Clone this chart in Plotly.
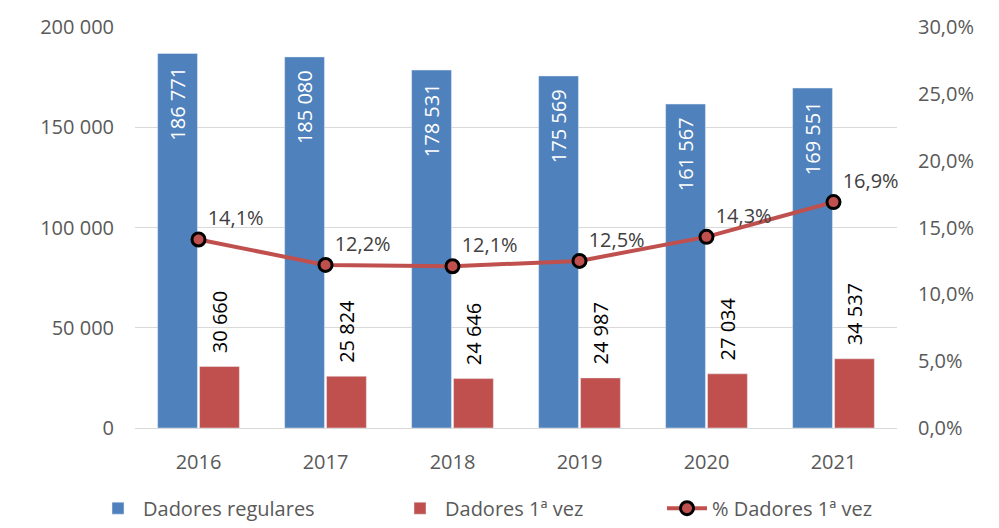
import plotly.graph_objects as go

years = ["2016", "2017", "2018", "2019", "2020", "2021"]
regulares = [186771, 185080, 178531, 175569, 161567, 169551]
primeira = [30660, 25824, 24646, 24987, 27034, 34537]
pct = [0.141, 0.122, 0.121, 0.125, 0.143, 0.169]

left_ticks = [0, 50000, 100000, 150000, 200000]
left_text = ["0", "50 000", "100 000", "150 000", "200 000"]
right_ticks = [0, 0.05, 0.10, 0.15, 0.20, 0.25, 0.30]
right_text = ["0,0%", "5,0%", "10,0%", "15,0%", "20,0%", "25,0%", "30,0%"]

def fmt_int(v):
    return f"{v:,}".replace(",", " ")

def fmt_pct(v):
    return f"{v*100:.1f}%".replace(".", ",")

FONT = "Open Sans"
BLUE = "#4F81BD"
RED = "#C0504D"
NB = "\u00a0"

fig = go.Figure()
fig.add_trace(go.Bar(
    x=years, y=regulares, name="Dadores regulares",
    marker=dict(color=BLUE),
    text=[fmt_int(v) + NB + NB for v in regulares],
    textposition="inside", insidetextanchor="end", textangle=-90,
    constraintext="none",
    textfont=dict(color="white", size=20, family=FONT),
    legend="legend",
))
fig.add_trace(go.Bar(
    x=years, y=primeira, name="Dadores 1ª vez",
    marker=dict(color=RED),
    text=[NB + NB + fmt_int(v) for v in primeira],
    textposition="outside", textangle=-90,
    constraintext="none",
    textfont=dict(color="#000000", size=20, family=FONT),
    cliponaxis=False,
    legend="legend2",
))
fig.add_trace(go.Scatter(
    x=years, y=pct, name="% Dadores 1ª vez", yaxis="y2",
    mode="lines+markers+text",
    line=dict(color=RED, width=4),
    marker=dict(color=RED, size=13, line=dict(color="black", width=3)),
    text=[fmt_pct(v) for v in pct],
    textposition="top right",
    textfont=dict(color="#404040", size=20, family=FONT),
    cliponaxis=False,
    legend="legend3",
))

leg_common = dict(orientation="h", y=-0.2, yanchor="middle", xanchor="left",
                  font=dict(size=20, color="#595959", family=FONT),
                  bgcolor="rgba(0,0,0,0)", itemwidth=40)

PL = 127  # plot left in figure px
PW = 762  # plot width

fig.update_layout(
    width=991, height=520,
    margin=dict(l=PL, r=102, t=19, b=100, autoexpand=False),
    paper_bgcolor="white", plot_bgcolor="white",
    font=dict(family=FONT, color="#595959", size=20),
    barmode="group", bargap=0.34, bargroupgap=0.05,
    xaxis=dict(showgrid=False, showline=True, linecolor="#D9D9D9", linewidth=1,
               tickfont=dict(size=20, color="#595959"), ticks="",
               automargin=False, ticklabelstandoff=16),
    yaxis=dict(range=[0, 200000], tickvals=left_ticks, ticktext=left_text,
               showgrid=True, gridcolor="#D9D9D9", gridwidth=1, zeroline=False,
               tickfont=dict(size=20, color="#595959"), ticklabelstandoff=20,
               automargin=False),
    yaxis2=dict(range=[0, 0.30], tickvals=right_ticks, ticktext=right_text,
                overlaying="y", side="right", showgrid=False, zeroline=False,
                tickfont=dict(size=20, color="#595959"), ticklabelstandoff=20,
                automargin=False),
    legend=dict(x=(85 - PL) / PW, **leg_common),
    legend2=dict(x=(387 - PL) / PW, **leg_common),
    legend3=dict(x=(654 - PL) / PW, **leg_common),
    showlegend=True,
)

fig.write_html("out.html")
